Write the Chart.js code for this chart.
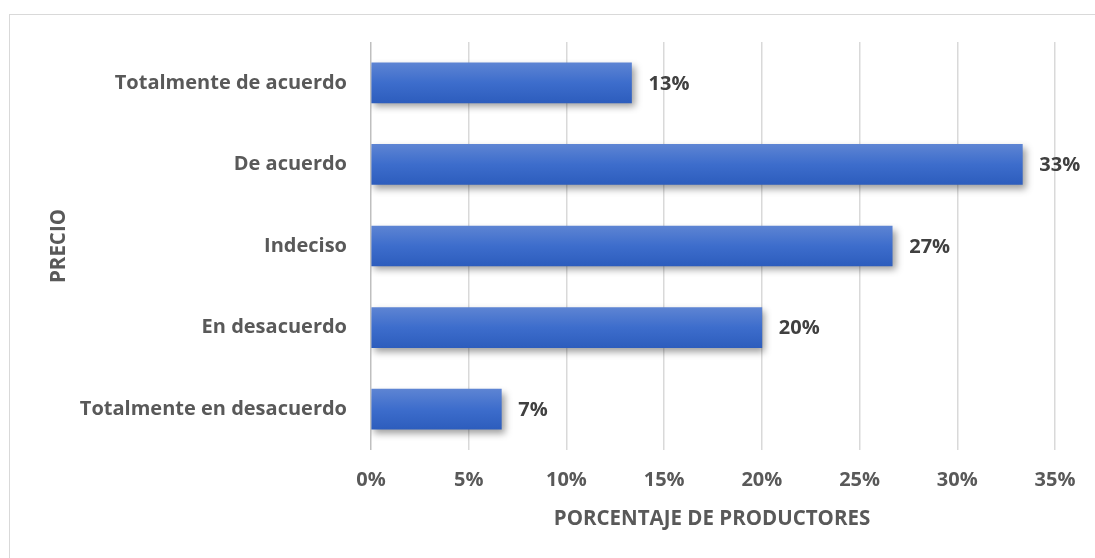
<!DOCTYPE html>
<html>
<head>
<meta charset="utf-8">
<script src="https://cdn.jsdelivr.net/npm/chart.js@4/dist/chart.umd.min.js"></script>
<style>
  html, body { margin: 0; padding: 0; background: #fff; overflow: hidden; }
  .frame {
    position: absolute; left: 9px; top: 14px; width: 1110px; height: 570px;
    border: 1.5px solid #d9d9d9;
  }
  .chart-wrap { position: absolute; left: 0; top: 0; width: 1095px; height: 558px; }
</style>
</head>
<body>
<div class="frame"></div>
<div class="chart-wrap"><canvas id="chart"></canvas></div>
<script>
// data
const categories = [
  "Totalmente de acuerdo",
  "De acuerdo",
  "Indeciso",
  "En desacuerdo",
  "Totalmente en desacuerdo",
];
const percentages = [13.33, 33.33, 26.67, 20.0, 6.67];
const valueLabels = ["13%", "33%", "27%", "20%", "7%"];
const xTicks = [0, 5, 10, 15, 20, 25, 30, 35];
const yTitle = "PRECIO";
const xTitle = "PORCENTAJE DE PRODUCTORES";

const FONT = "'Open Sans'";
const FONT_SIZE = 20;
const barThickness = 40;

// bar gradient, lighter on top
function barFill(context) {
  const chart = context.chart;
  const y = chart.scales.y;
  if (!chart.chartArea || !y) return "#3b6ccc";
  const cy = y.getPixelForValue(context.dataIndex);
  const g = chart.ctx.createLinearGradient(0, cy - barThickness / 2, 0, cy + barThickness / 2);
  g.addColorStop(0, "#5d84d3");
  g.addColorStop(0.5, "#3d6dcc");
  g.addColorStop(1, "#2d5dbd");
  return g;
}

// shadow under bars
const barShadow = {
  id: "barShadow",
  beforeDatasetDraw(chart) {
    const ctx = chart.ctx;
    ctx.save();
    ctx.shadowColor = "rgba(0,0,0,0.38)";
    ctx.shadowBlur = 7;
    ctx.shadowOffsetX = 3;
    ctx.shadowOffsetY = 4;
  },
  afterDatasetDraw(chart) {
    chart.ctx.restore();
  },
};

// value labels + axis titles
const extraText = {
  id: "extraText",
  afterDatasetsDraw(chart) {
    const ctx = chart.ctx;
    const meta = chart.getDatasetMeta(0);
    ctx.save();
    ctx.font = `bold ${FONT_SIZE}px ${FONT}`;
    ctx.fillStyle = "#404040";
    ctx.textAlign = "left";
    ctx.textBaseline = "middle";
    meta.data.forEach((bar, i) => {
      ctx.fillText(valueLabels[i], bar.x + 17, bar.y + 1);
    });

    ctx.fillStyle = "#595959";
    ctx.textAlign = "center";
    ctx.font = `bold 20.5px ${FONT}`;
    ctx.fillText(xTitle, 712, 519);

    ctx.translate(59, 246);
    ctx.rotate(-Math.PI / 2);
    ctx.fillText(yTitle, 0, 0);
    ctx.restore();
  },
};

const ctx = document.getElementById("chart").getContext("2d");
const chart = new Chart(ctx, {
  type: "bar",
  data: {
    labels: categories,
    datasets: [
      {
        data: percentages,
        backgroundColor: barFill,
        borderWidth: 0,
        barThickness: barThickness,
      },
    ],
  },
  options: {
    indexAxis: "y",
    responsive: true,
    maintainAspectRatio: false,
    animation: false,
    layout: { padding: { top: 42, right: 40, left: 0, bottom: 0 } },
    scales: {
      x: {
        min: 0,
        max: 35,
        afterBuildTicks: (scale) => {
          scale.ticks = xTicks.map((v) => ({ value: v }));
        },
        afterFit: (scale) => {
          scale.height = 108;
        },
        border: { display: false },
        grid: {
          color: (c) => (c.index === 0 ? "#bfbfbf" : "#d9d9d9"),
          lineWidth: 1.5,
          drawTicks: false,
        },
        ticks: {
          padding: 18,
          color: "#595959",
          font: { family: FONT, size: FONT_SIZE, weight: "bold" },
          callback: (v) => v + "%",
        },
      },
      y: {
        afterFit: (scale) => {
          scale.width = 371;
        },
        border: { display: false },
        grid: { display: false, drawTicks: false },
        ticks: {
          padding: 24,
          color: "#595959",
          font: { family: FONT, size: FONT_SIZE, weight: "bold" },
        },
      },
    },
    plugins: {
      legend: { display: false },
      tooltip: { enabled: false },
    },
  },
  plugins: [barShadow, extraText],
});
</script>
</body>
</html>
